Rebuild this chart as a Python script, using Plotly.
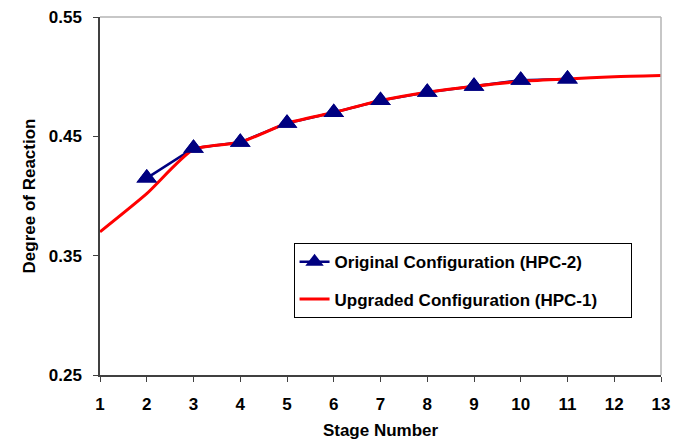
import plotly.graph_objects as go

stages_orig = [2, 3, 4, 5, 6, 7, 8, 9, 10, 11]
dor_orig = [0.415, 0.440, 0.445, 0.461, 0.470, 0.480, 0.487, 0.492, 0.497, 0.498]

stages_upg = [1, 2, 3, 4, 5, 6, 7, 8, 9, 10, 11, 12, 13]
dor_upg = [0.370, 0.402, 0.439, 0.445, 0.461, 0.470, 0.480, 0.487, 0.492, 0.496, 0.498, 0.500, 0.501]

x_ticks = list(range(1, 14))
y_ticks = [0.25, 0.35, 0.45, 0.55]
y_tick_text = ["0.25", "0.35", "0.45", "0.55"]

FONT = "Arial, Liberation Sans, sans-serif"
NAVY = "#000080"
RED = "#FF0000"
PAD = "\u00a0" * 6

fig = go.Figure()
fig.add_trace(go.Scatter(
    x=stages_orig, y=dor_orig, mode="lines+markers",
    name="Original Configuration (HPC-2)" + PAD,
    line=dict(color=NAVY, width=2.5),
    marker=dict(symbol="triangle-up", size=18, color=NAVY),
    legendgroup="a", legendrank=1,
))
fig.add_trace(go.Scatter(
    x=stages_upg, y=dor_upg, mode="lines",
    name="Upgraded Configuration (HPC-1)" + PAD,
    line=dict(color=RED, width=3, shape="spline", smoothing=0.6),
    legendgroup="b", legendrank=2,
))
fig.add_trace(go.Scatter(
    x=stages_orig, y=dor_orig, mode="markers",
    marker=dict(symbol="triangle-up", size=18, color=NAVY),
    showlegend=False, legendgroup="a", hoverinfo="skip",
))

# light grey plot-area border (top & right)
fig.add_shape(type="line", xref="paper", yref="paper", x0=0, x1=1, y0=1, y1=1,
              line=dict(color="#b4b4b4", width=1.5))
fig.add_shape(type="line", xref="paper", yref="paper", x0=1, x1=1, y0=0, y1=1,
              line=dict(color="#b4b4b4", width=1.5))

fig.update_layout(
    width=686, height=445,
    margin=dict(l=92, r=33, t=9, b=78, autoexpand=False),
    paper_bgcolor="white", plot_bgcolor="white",
    font=dict(family=FONT, size=17, color="black", weight="bold"),
    showlegend=True,
    legend=dict(
        x=0.345, y=0.368, xanchor="left", yanchor="top",
        bordercolor="black", borderwidth=1, bgcolor="white",
        font=dict(family=FONT, size=17, color="black", weight="bold"),
        traceorder="grouped", tracegroupgap=12,
    ),
    xaxis=dict(
        range=[1, 13], tickmode="array", tickvals=x_ticks,
        showgrid=False, zeroline=False, automargin=False,
        showline=True, linecolor="#404040", linewidth=1.5,
        ticks="outside", ticklen=5, tickcolor="#404040", tickwidth=1,
        ticklabelstandoff=8, ticklabeloverflow="allow",
        tickfont=dict(family=FONT, size=17, color="black", weight="bold"),
        title=dict(text="Stage Number", standoff=11,
                   font=dict(family=FONT, size=17, color="black", weight="bold")),
    ),
    yaxis=dict(
        range=[0.25, 0.55], tickmode="array", tickvals=y_ticks, ticktext=y_tick_text,
        showgrid=False, zeroline=False, automargin=False,
        showline=True, linecolor="#404040", linewidth=1.5,
        ticks="outside", ticklen=5, tickcolor="#404040", tickwidth=1,
        ticklabelstandoff=8, ticklabeloverflow="allow",
        tickfont=dict(family=FONT, size=17, color="black", weight="bold"),
        title=dict(text="Degree of Reaction", standoff=9,
                   font=dict(family=FONT, size=17, color="black", weight="bold")),
    ),
)

fig.write_html("out.html")
